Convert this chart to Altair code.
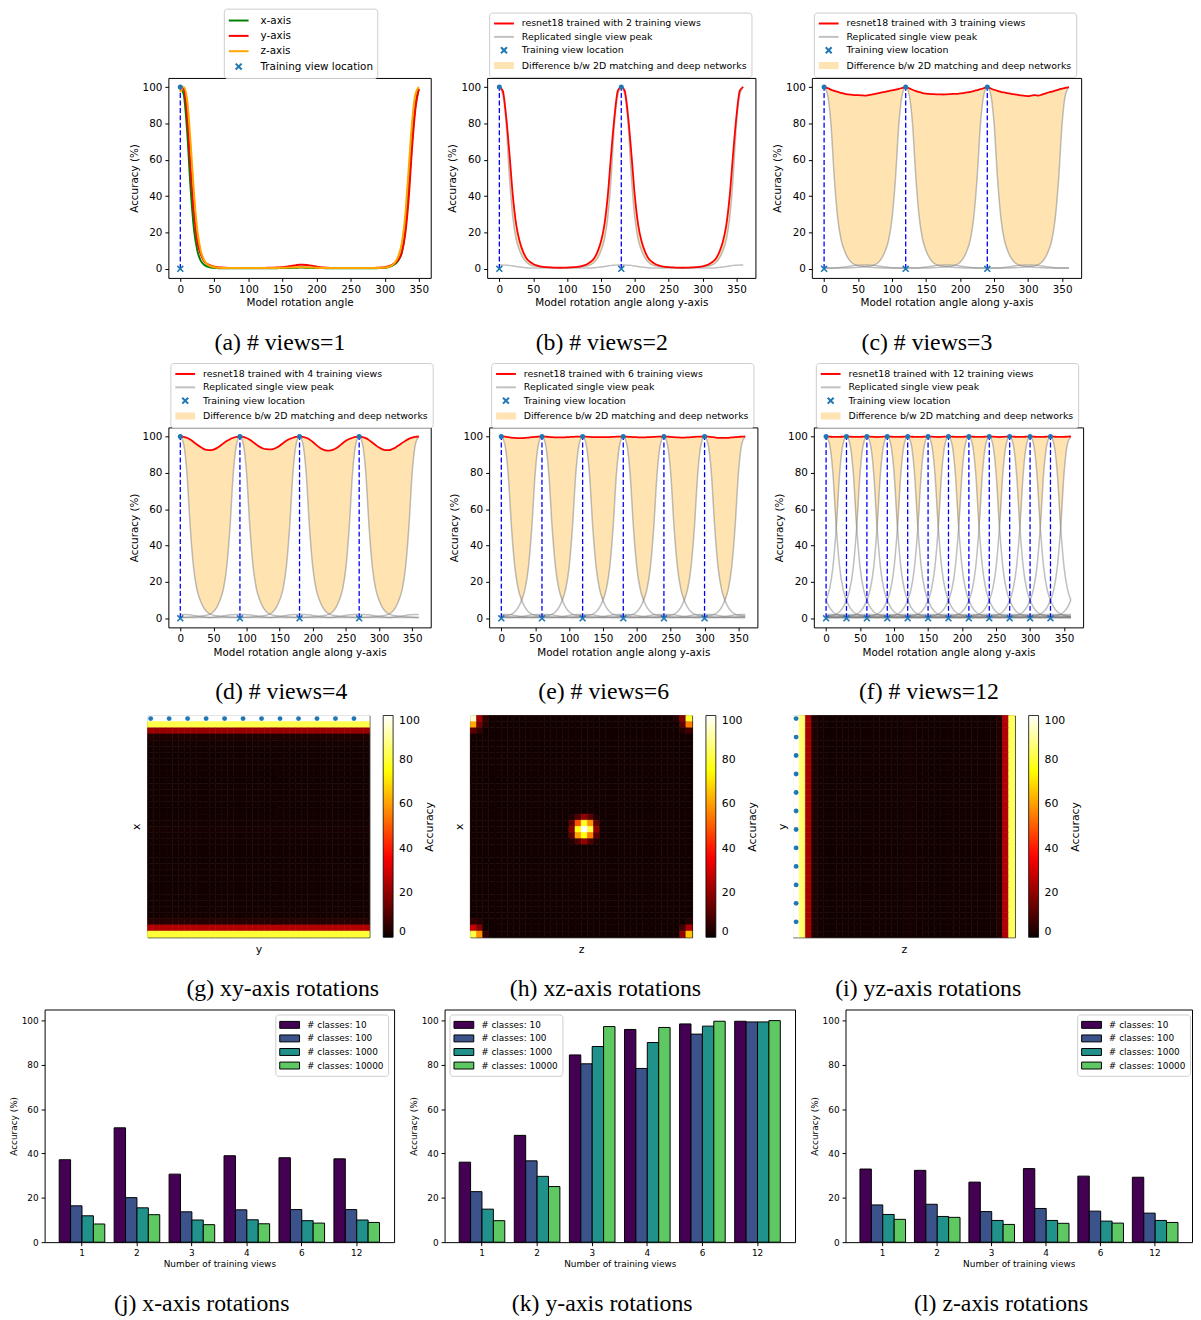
import altair as alt
import pandas as pd

FONT = "DejaVu Sans"
SERIF = "Liberation Serif"

# ---------------- tick labels ----------------
LINE_X_TICKS = [0, 50, 100, 150, 200, 250, 300, 350]
ACC_TICKS = [0, 20, 40, 60, 80, 100]

# ---------------- (a) single view curves, 0..350 deg every 5 deg ----------------
ANGLES_A = list(range(0, 351, 5))
ACC_X_AXIS = [100, 96, 76, 45, 22, 10, 4.5, 2.2, 1.2, 0.7, 0.5,
              0.4, 0.3, 0.3, 0.3, 0.3, 0.3, 0.3, 0.3, 0.3, 0.3, 0.3, 0.3, 0.3, 0.3, 0.3,
              0.3, 0.3, 0.3, 0.4, 0.4, 0.5, 0.5, 0.6, 0.6, 0.7, 0.7, 0.6, 0.6, 0.5, 0.5, 0.4, 0.4, 0.3,
              0.3, 0.3, 0.3, 0.3, 0.3, 0.3, 0.3, 0.3, 0.3, 0.3, 0.3, 0.3, 0.3, 0.3,
              0.4, 0.5, 0.6, 0.9, 1.5, 2.6, 4.6, 9, 21, 43, 70, 90, 99]
ACC_Y_AXIS = [100, 99, 85, 56, 31, 15, 8, 4.2, 2.6, 1.7, 1.2,
              0.9, 0.7, 0.6, 0.5, 0.5, 0.5, 0.5, 0.5, 0.5, 0.5, 0.5, 0.5, 0.5, 0.5, 0.5,
              0.6, 0.6, 0.7, 0.8, 0.9, 1.1, 1.4, 1.7, 2.0, 2.2, 2.2, 2.1, 1.9, 1.6, 1.2, 0.9, 0.7, 0.6,
              0.5, 0.5, 0.5, 0.5, 0.5, 0.5, 0.5, 0.5, 0.5, 0.5, 0.5, 0.5, 0.5, 0.5,
              0.6, 0.7, 0.9, 1.3, 2.0, 3.2, 5.0, 9, 19, 38, 66, 88, 99]
ACC_Z_AXIS = [97, 100, 93, 70, 42, 21, 10, 4.8, 2.4, 1.4, 0.9,
              0.6, 0.5, 0.4, 0.4, 0.4, 0.4, 0.4, 0.4, 0.4, 0.4, 0.4, 0.4, 0.4, 0.4, 0.4,
              0.4, 0.4, 0.5, 0.5, 0.6, 0.6, 0.7, 0.8, 0.9, 0.9, 0.9, 0.9, 0.8, 0.7, 0.6, 0.5, 0.5, 0.4,
              0.4, 0.4, 0.4, 0.4, 0.4, 0.4, 0.4, 0.4, 0.4, 0.4, 0.4, 0.4, 0.4, 0.4,
              0.5, 0.6, 0.7, 1.0, 1.8, 3.5, 7, 14, 29, 54, 80, 96, 100]

# ---------------- (b)-(f): 0..360 deg every 5 deg ----------------
ANGLES = list(range(0, 361, 5))
# single-view peak profile vs angular distance 0..180 (every 5 deg)
PEAK_PROFILE = [100, 96, 80, 50, 28, 16, 10, 6, 3.6, 2.3,
                1.7, 1.4, 1.2, 1.0, 0.8, 0.7, 0.6, 0.5, 0.5, 0.5,
                0.5, 0.5, 0.5, 0.5, 0.5, 0.5, 0.5, 0.5,
                0.6, 0.8, 1.0, 1.3, 1.6, 1.9, 2.0, 2.1, 2.1]

RED_2 = [100, 98, 84, 63, 40, 24, 15, 9.5, 5.8, 3.9, 2.7, 1.9, 1.4, 1.1, 0.9, 0.8, 0.7, 0.65, 0.6,
         0.65, 0.7, 0.8, 0.9, 1.1, 1.4, 1.9, 2.7, 3.9, 5.8, 9.5, 15, 24, 40, 63, 84, 98, 100,
         98, 84, 63, 40, 24, 15, 9.5, 5.8, 3.9, 2.7, 1.9, 1.4, 1.1, 0.9, 0.8, 0.7, 0.65, 0.6,
         0.65, 0.7, 0.8, 0.9, 1.1, 1.4, 1.9, 2.7, 3.9, 5.8, 9.5, 15, 24, 40, 63, 84, 98, 100]
RED_3 = [100, 99.4, 98.6, 97.9, 97.3, 96.8, 96.3, 96.0, 95.8, 95.6, 95.5, 95.4, 95.3,
         95.5, 95.8, 96.2, 96.6, 97.0, 97.4, 97.8, 98.2, 98.6, 99.0, 99.5, 100,
         99.3, 98.5, 97.8, 97.2, 96.7, 96.4, 96.2, 96.1, 96.0, 96.0, 95.9, 96.0,
         96.1, 96.2, 96.3, 96.5, 96.7, 97.0, 97.4, 97.8, 98.3, 98.8, 99.4, 100,
         99.2, 98.5, 97.9, 97.4, 97.0, 96.7, 96.3, 96.0, 95.7, 95.4, 95.2, 95.0,
         95.3, 95.5, 95.3, 95.8, 96.4, 97.0, 97.5, 98.0, 98.6, 99.1, 99.6, 100]
RED_4 = [100, 99.8, 99.3, 98.3, 97.0, 95.6, 94.3, 93.2, 92.6, 92.5, 92.8, 93.6, 94.8, 96.2, 97.5, 98.5, 99.3, 99.8, 100,
         99.8, 99.2, 98.2, 96.9, 95.5, 94.3, 93.4, 93.0, 92.9, 93.1, 93.8, 94.9, 96.3, 97.6, 98.6, 99.3, 99.8, 100,
         99.8, 99.3, 98.4, 97.0, 95.4, 94.0, 92.9, 92.3, 92.2, 92.6, 93.5, 94.8, 96.3, 97.6, 98.6, 99.3, 99.8, 100,
         99.7, 99.1, 98.0, 96.6, 95.2, 93.9, 92.9, 92.5, 92.5, 93.1, 94.0, 95.2, 96.5, 97.7, 98.7, 99.4, 99.8, 100]
RED_6 = [100,
         99.9, 99.7, 99.4, 99.2, 99.1, 99.1, 99.2, 99.4, 99.6, 99.8, 99.9, 100,
         99.9, 99.8, 99.6, 99.5, 99.5, 99.5, 99.6, 99.7, 99.8, 99.9, 99.9, 100,
         99.9, 99.8, 99.7, 99.6, 99.6, 99.6, 99.6, 99.7, 99.8, 99.9, 99.9, 100,
         99.9, 99.8, 99.7, 99.6, 99.5, 99.5, 99.6, 99.7, 99.8, 99.9, 99.9, 100,
         99.9, 99.8, 99.6, 99.5, 99.4, 99.4, 99.5, 99.6, 99.8, 99.9, 99.9, 100,
         99.9, 99.7, 99.5, 99.3, 99.2, 99.2, 99.3, 99.5, 99.6, 99.8, 99.9, 100]
RED_12 = [100,
          99.9, 99.8, 99.8, 99.8, 99.9, 100, 99.9, 99.8, 99.8, 99.8, 99.9, 100,
          99.9, 99.8, 99.7, 99.8, 99.9, 100, 99.9, 99.8, 99.8, 99.8, 99.9, 100,
          99.9, 99.8, 99.8, 99.8, 99.9, 100, 99.9, 99.8, 99.7, 99.8, 99.9, 100,
          99.9, 99.8, 99.8, 99.8, 99.9, 100, 99.9, 99.8, 99.8, 99.8, 99.9, 100,
          99.9, 99.8, 99.7, 99.8, 99.9, 100, 99.9, 99.8, 99.8, 99.8, 99.9, 100,
          99.9, 99.8, 99.8, 99.8, 99.9, 100, 99.9, 99.8, 99.8, 99.8, 99.9, 100]
RED = {2: RED_2, 3: RED_3, 4: RED_4, 6: RED_6, 12: RED_12}
TRAIN_VIEWS = {1: [0], 2: [0, 180], 3: [0, 120, 240], 4: [0, 90, 180, 270],
               6: [0, 60, 120, 180, 240, 300],
               12: [0, 30, 60, 90, 120, 150, 180, 210, 240, 270, 300, 330]}

# ---------------- heatmaps (36 x 36 cells, 10 deg each) ----------------
HEAT_XY_ROWS = [100, 82, 21, 3, 1.5, 1.2, 1.0, 1.0, 1.0, 1.0, 1.0, 1.0, 1.0, 1.0, 1.0, 1.0, 1.0,
                1.2, 1.8, 1.2, 1.0, 1.0, 1.0, 1.0, 1.0, 1.0, 1.0, 1.0, 1.0, 1.0, 1.0,
                1.2, 1.5, 4, 25, 80]
HEAT_YZ_COLS = [100, 86, 23, 3, 1.5, 1.2, 1.0, 1.0, 1.0, 1.0, 1.0, 1.0, 1.0, 1.0, 1.0, 1.0, 1.0,
                1.2, 1.8, 1.2, 1.0, 1.0, 1.0, 1.0, 1.0, 1.0, 1.0, 1.0, 1.0, 1.0, 1.0,
                1.2, 1.5, 3.5, 25, 84]
HEAT_XZ_BASE = 1.0
HEAT_XZ_SPOTS = [  # (row, col, accuracy)
    (0, 0, 96), (0, 1, 22), (0, 2, 6), (1, 0, 62), (1, 1, 15), (1, 2, 4), (2, 0, 12), (2, 1, 6),
    (0, 35, 80), (0, 34, 18), (0, 33, 4), (1, 35, 55), (1, 34, 12), (2, 35, 8), (2, 34, 4),
    (35, 0, 82), (35, 1, 58), (35, 2, 6), (34, 0, 28), (34, 1, 18), (33, 0, 6), (33, 1, 4),
    (35, 35, 66), (35, 34, 20), (34, 35, 24), (34, 34, 8), (33, 35, 4),
    (16, 16, 3), (16, 17, 10), (16, 18, 20), (16, 19, 12), (16, 20, 3),
    (17, 16, 12), (17, 17, 48), (17, 18, 78), (17, 19, 58), (17, 20, 12),
    (18, 16, 18), (18, 17, 76), (18, 18, 100), (18, 19, 82), (18, 20, 20),
    (19, 16, 12), (19, 17, 60), (19, 18, 76), (19, 19, 55), (19, 20, 12),
    (20, 16, 3), (20, 17, 10), (20, 18, 20), (20, 19, 10), (20, 20, 3),
]
DOT_CELLS = [0, 3, 6, 9, 12, 15, 18, 21, 24, 27, 30, 33]
HOT_STOPS = [0, 36.5, 74.6, 100]
HOT_COLORS = ["#0b0000", "#ff0000", "#ffff00", "#ffffff"]

# ---------------- bar charts ----------------
VIEW_LABELS = ["1", "2", "3", "4", "6", "12"]
CLASS_LABELS = ["# classes: 10", "# classes: 100", "# classes: 1000", "# classes: 10000"]
VIRIDIS4 = ["#440154", "#3b528b", "#21918c", "#5ec962"]
BAR_X = [[37.2, 51.6, 30.7, 39.0, 38.1, 37.6],
         [16.4, 20.1, 13.7, 14.6, 14.7, 14.7],
         [11.9, 15.5, 10.0, 10.1, 9.7, 10.0],
         [8.2, 12.4, 7.9, 8.3, 8.6, 8.9]]
BAR_Y = [[36.1, 48.2, 84.5, 96.0, 98.5, 99.7],
         [22.8, 36.7, 80.5, 78.4, 93.9, 99.4],
         [14.9, 29.7, 88.3, 90.1, 97.5, 99.4],
         [9.7, 25.1, 97.3, 96.9, 99.7, 100.0]]
BAR_Z = [[33.0, 32.4, 27.1, 33.2, 29.8, 29.3],
         [16.8, 17.1, 13.8, 15.2, 14.0, 13.1],
         [12.5, 11.6, 9.8, 9.8, 9.5, 9.8],
         [10.3, 11.2, 8.0, 8.5, 8.6, 8.9]]

CAPTIONS = ["(a) # views=1", "(b) # views=2", "(c) # views=3", "(d) # views=4",
            "(e) # views=6", "(f) # views=12", "(g) xy-axis rotations",
            "(h) xz-axis rotations", "(i) yz-axis rotations", "(j) x-axis rotations",
            "(k) y-axis rotations", "(l) z-axis rotations"]


# ======================================================================
def caption(text, offset):
    return alt.TitleParams(text=text, orient="bottom", anchor="middle", frame="bounds", font=SERIF,
                           fontSize=24, fontWeight="normal", color="black", offset=offset)


def legend_paths(S):
    r = S / 2.0
    L = 20.0 / r
    line = f"M-1,0H{-1 + L:.3f}"
    cx = -1 + 10.0 / r
    h = 3.0 / r
    xm = (f"M{cx - h:.3f},{-h:.3f}L{cx + h:.3f},{h:.3f}"
          f"M{cx - h:.3f},{h:.3f}L{cx + h:.3f},{-h:.3f}")
    band = "".join(f"M-1,{k / r:.3f}H{-1 + L:.3f}" for k in (-2.5, -1.5, -0.5, 0.5, 1.5, 2.5))
    box = f"M-1,{-3.5 / r:.3f}H{-1 + L:.3f}V{3.5 / r:.3f}H-1Z"
    return line, xm, band, box


def sym_legend(lx, ly, fs, S, lo, rp):
    return alt.Legend(orient="none", legendX=lx, legendY=ly, direction="vertical", title=None,
                      labelFont=FONT, labelFontSize=fs, labelColor="black", labelLimit=600,
                      labelOffset=lo, symbolSize=S * S, symbolStrokeWidth=2, symbolOpacity=1,
                      strokeColor="#cccccc", fillColor="white", padding=4, cornerRadius=3,
                      rowPadding=rp)


def line_axes(xdomain, xtitle):
    X = lambda f: alt.X(f, type="quantitative",
                        scale=alt.Scale(domain=xdomain, nice=False, zero=False),
                        axis=alt.Axis(values=LINE_X_TICKS, title=xtitle, labelFontSize=10.5,
                                      titleFontSize=10.5, tickSize=3.5, labelPadding=3,
                                      titlePadding=3, labelFlush=False, labelOverlap=False))
    Y = lambda f: alt.Y(f, type="quantitative",
                        scale=alt.Scale(domain=[-5, 105], nice=False, zero=False),
                        axis=alt.Axis(values=ACC_TICKS, title="Accuracy (%)", labelFontSize=10.5,
                                      titleFontSize=10.5, tickSize=3.5, labelPadding=3,
                                      titlePadding=3, labelFlush=False))
    return X, Y


def view_marks(views, X, Y):
    vdf = pd.DataFrame({"x": views, "y": [0] * len(views), "y2": [100] * len(views),
                        "top": [100] * len(views)})
    rules = alt.Chart(vdf).mark_rule(color="#0000ff", strokeDash=[5, 2.5], strokeWidth=1.3).encode(
        x=X("x"), y=Y("y"), y2="y2:Q")
    dots = alt.Chart(vdf).mark_circle(color="#1f77b4", size=26, opacity=1).encode(x=X("x"), y=Y("top"))
    crosses = alt.Chart(vdf).mark_point(shape="M-1,-1L1,1M-1,1L1,-1", size=36, filled=False,
                                        color="#1f77b4", strokeWidth=1.6, opacity=1).encode(
        x=X("x"), y=Y("y"))
    return rules, dots, crosses


def legend_layer(labels, colors, shapes, leg):
    return alt.Chart(pd.DataFrame({"lg": labels})).mark_point(
        opacity=0, filled=False, strokeWidth=2).encode(
        color=alt.Color("lg:N", scale=alt.Scale(domain=labels, range=colors), legend=leg),
        shape=alt.Shape("lg:N", scale=alt.Scale(domain=labels, range=shapes), legend=leg))


def spacer(w):
    return alt.Chart(pd.DataFrame({"s": [0]})).mark_point(opacity=0).properties(
        width=w, height=10, view=alt.ViewBackground(stroke="transparent"))


def panel_a(width, cap):
    X, Y = line_axes([-17.5, 367.5], "Model rotation angle")
    df = pd.DataFrame({"x": ANGLES_A, "ax": ACC_X_AXIS, "ay": ACC_Y_AXIS, "az": ACC_Z_AXIS})
    gl = alt.Chart(df).mark_line(color="#008000", strokeWidth=2, interpolate="monotone").encode(x=X("x"), y=Y("ax"))
    rl = alt.Chart(df).mark_line(color="#ff0000", strokeWidth=2, interpolate="monotone").encode(x=X("x"), y=Y("ay"))
    ol = alt.Chart(df).mark_line(color="#ffa500", strokeWidth=2, interpolate="monotone").encode(x=X("x"), y=Y("az"))
    rules, dots, crosses = view_marks(TRAIN_VIEWS[1], X, Y)
    line, xm, band, box = legend_paths(14)
    labels = ["x-axis", "y-axis", "z-axis", "Training view location"]
    leg = sym_legend(56, -70, 10.5, 14, 17, 1.5)
    lg = legend_layer(labels, ["#008000", "#ff0000", "#ffa500", "#1f77b4"], [line, line, line, xm], leg)
    return alt.layer(rules, gl, rl, ol, dots, crosses, lg).properties(
        width=width, height=202, title=caption(cap, 23))


def panel_n(n, width, ly, cap):
    X, Y = line_axes([-18, 378], "Model rotation angle along y-axis")
    red = RED[n]
    views = TRAIN_VIEWS[n]
    gray_rows = []
    env = []
    for a in ANGLES:
        m = 0
        for t in views:
            d = abs(a - t) % 360
            d = min(d, 360 - d)
            v = PEAK_PROFILE[d // 5]
            gray_rows.append({"x": a, "y": v, "t": t})
            m = max(m, v)
        env.append(m)
    area_df = pd.DataFrame({"x": ANGLES, "lo": env, "hi": red})
    red_df = pd.DataFrame({"x": ANGLES, "y": red})
    gray_df = pd.DataFrame(gray_rows)
    area = alt.Chart(area_df).mark_area(color="orange", opacity=0.3, interpolate="monotone").encode(
        x=X("x"), y=Y("lo"), y2="hi:Q")
    gray = alt.Chart(gray_df).mark_line(color="gray", opacity=0.5, strokeWidth=1.5,
                                        interpolate="monotone").encode(x=X("x"), y=Y("y"), detail="t:N")
    redl = alt.Chart(red_df).mark_line(color="#ff0000", strokeWidth=1.8, interpolate="monotone").encode(
        x=X("x"), y=Y("y"))
    rules, dots, crosses = view_marks(views, X, Y)
    line, xm, band, box = legend_paths(12)
    labels = [f"resnet18 trained with {n} training views", "Replicated single view peak",
              "Training view location", "Difference b/w 2D matching and deep networks"]
    leg = sym_legend(2, ly, 9.5, 12, 15, 1.5)
    lg = legend_layer(labels, ["#ff0000", "#c0c0c0", "#1f77b4", "#ffe4b3"], [line, line, xm, band], leg)
    return alt.layer(area, gray, redl, rules, dots, crosses, lg).properties(
        width=width, height=202, title=caption(cap, 23))


def heat_panel(kind, xtitle, ytitle, cap):
    rows = []
    for r in range(36):
        for c in range(36):
            if kind == "xy":
                v = HEAT_XY_ROWS[r]
            elif kind == "yz":
                v = HEAT_YZ_COLS[c]
            else:
                v = HEAT_XZ_BASE
            rows.append({"r": r, "c": c, "v": v})
    df = pd.DataFrame(rows)
    if kind == "xz":
        spots = {(r, c): v for r, c, v in HEAT_XZ_SPOTS}
        df["v"] = [spots.get((r, c), v) for r, c, v in zip(df["r"], df["c"], df["v"])]
    XO = alt.X("c:O", scale=alt.Scale(paddingInner=0, paddingOuter=0),
               axis=alt.Axis(title=xtitle, labels=False, ticks=False, domain=False,
                             titlePadding=6, titleFontSize=11))
    YO = alt.Y("r:O", scale=alt.Scale(paddingInner=0, paddingOuter=0),
               axis=alt.Axis(title=ytitle, labels=False, ticks=False, domain=False,
                             titlePadding=6, titleFontSize=11))
    cleg = alt.Legend(orient="none", legendX=238, legendY=0, direction="vertical", title=None,
                      gradientLength=224, gradientThickness=10, values=ACC_TICKS,
                      labelFont=FONT, labelFontSize=11, labelColor="black", labelOffset=6,
                      gradientStrokeColor="black", gradientStrokeWidth=0.8,
                      labelOverlap=False, padding=0, labelBaseline="middle")
    hot = alt.Scale(domain=HOT_STOPS, range=HOT_COLORS, interpolate="rgb")
    rect = alt.Chart(df).mark_rect(strokeWidth=0.6).encode(
        x=XO, y=YO,
        color=alt.Color("v:Q", scale=hot, legend=cleg),
        stroke=alt.Stroke("v:Q", scale=alt.Scale(domain=HOT_STOPS, range=HOT_COLORS, interpolate="rgb"),
                          legend=None))
    inner = [rect]
    if kind == "xy":
        ddf = pd.DataFrame({"r": [0] * len(DOT_CELLS), "c": DOT_CELLS})
        inner.append(alt.Chart(ddf).mark_circle(color="#1f77b4", size=24, opacity=1).encode(x=XO, y=YO))
    if kind == "yz":
        ddf = pd.DataFrame({"r": DOT_CELLS, "c": [0] * len(DOT_CELLS)})
        inner.append(alt.Chart(ddf).mark_circle(color="#1f77b4", size=24, opacity=1).encode(x=XO, y=YO))
    cb = alt.Chart(pd.DataFrame({"acc": [0, 100]})).mark_point(opacity=0).encode(
        y=alt.Y("acc:Q", axis=alt.Axis(orient="right", title="Accuracy", titleAngle=270,
                                       labels=False, ticks=False, domain=False, grid=False,
                                       titlePadding=61, titleBaseline="middle", titleFontSize=11)))
    return alt.layer(alt.layer(*inner), cb).resolve_scale(y="independent").properties(
        width=224, height=224, title=caption(cap, 23))


def bar_panel(vals, width, lx, cap):
    rows = []
    for ci, cl in enumerate(CLASS_LABELS):
        for vi, v in enumerate(VIEW_LABELS):
            rows.append({"views": v, "cls": cl, "acc": vals[ci][vi]})
    df = pd.DataFrame(rows)
    line, xm, band, box = legend_paths(12)
    leg = alt.Legend(orient="none", legendX=lx, legendY=5, direction="vertical", title=None,
                     labelFont=FONT, labelFontSize=9, labelColor="black", labelLimit=300,
                     labelOffset=15, symbolType=box, symbolSize=144, symbolStrokeColor="black",
                     symbolStrokeWidth=1, strokeColor="#cccccc", fillColor="white", padding=4,
                     cornerRadius=3, rowPadding=1.7)
    return alt.Chart(df).mark_bar(stroke="black", strokeWidth=1).encode(
        x=alt.X("views:O", sort=VIEW_LABELS,
                scale=alt.Scale(paddingInner=0.17, paddingOuter=0.265),
                axis=alt.Axis(title="Number of training views", labelAngle=0, labelFontSize=9,
                              titleFontSize=9, tickSize=3.5, labelPadding=3, titlePadding=2)),
        xOffset=alt.XOffset("cls:N", sort=CLASS_LABELS, scale=alt.Scale(paddingInner=0)),
        y=alt.Y("acc:Q", scale=alt.Scale(domain=[0, 105], nice=False),
                axis=alt.Axis(values=ACC_TICKS, title="Accuracy (%)", labelFontSize=9,
                              titleFontSize=9, tickSize=3.5, labelPadding=3, titlePadding=3)),
        color=alt.Color("cls:N", scale=alt.Scale(domain=CLASS_LABELS, range=VIRIDIS4), legend=leg),
    ).properties(width=width, height=235, title=caption(cap, 24))


def indep(c):
    return c.resolve_scale(color="independent", shape="independent").resolve_legend(
        color="independent", shape="independent")


row1 = indep(alt.hconcat(spacer(68), panel_a(265, CAPTIONS[0]), panel_n(2, 271, -66, CAPTIONS[1]),
                         panel_n(3, 272, -66, CAPTIONS[2]), spacing=15))
row2 = indep(alt.hconcat(spacer(68), panel_n(4, 265, -65, CAPTIONS[3]), panel_n(6, 271, -65, CAPTIONS[4]),
                         panel_n(12, 272, -65, CAPTIONS[5]), spacing=15))
row3 = indep(alt.hconcat(spacer(68), heat_panel("xy", "y", "x", CAPTIONS[6]),
                         heat_panel("xz", "z", "x", CAPTIONS[7]),
                         heat_panel("yz", "z", "y", CAPTIONS[8]), spacing=17))
row4 = indep(alt.hconcat(bar_panel(BAR_X, 353, 233, CAPTIONS[9]), bar_panel(BAR_Y, 354, 5, CAPTIONS[10]),
                         bar_panel(BAR_Z, 350, 234, CAPTIONS[11]), spacing=13))

chart = indep(alt.vconcat(row1, row2, row3, row4, spacing=7)).properties(
    padding={"left": 0, "top": -7, "right": 0, "bottom": 0}
).configure(font=FONT).configure_view(stroke="black", strokeWidth=1).configure_axis(
    grid=False, domain=False, labelColor="black", titleColor="black", tickColor="black",
    labelFont=FONT, titleFont=FONT, titleFontWeight="normal", tickWidth=1
).configure_title(font=SERIF, fontSize=24, fontWeight="normal", color="black")

chart.save("out.html", embed_options={"renderer": "svg", "actions": False})
